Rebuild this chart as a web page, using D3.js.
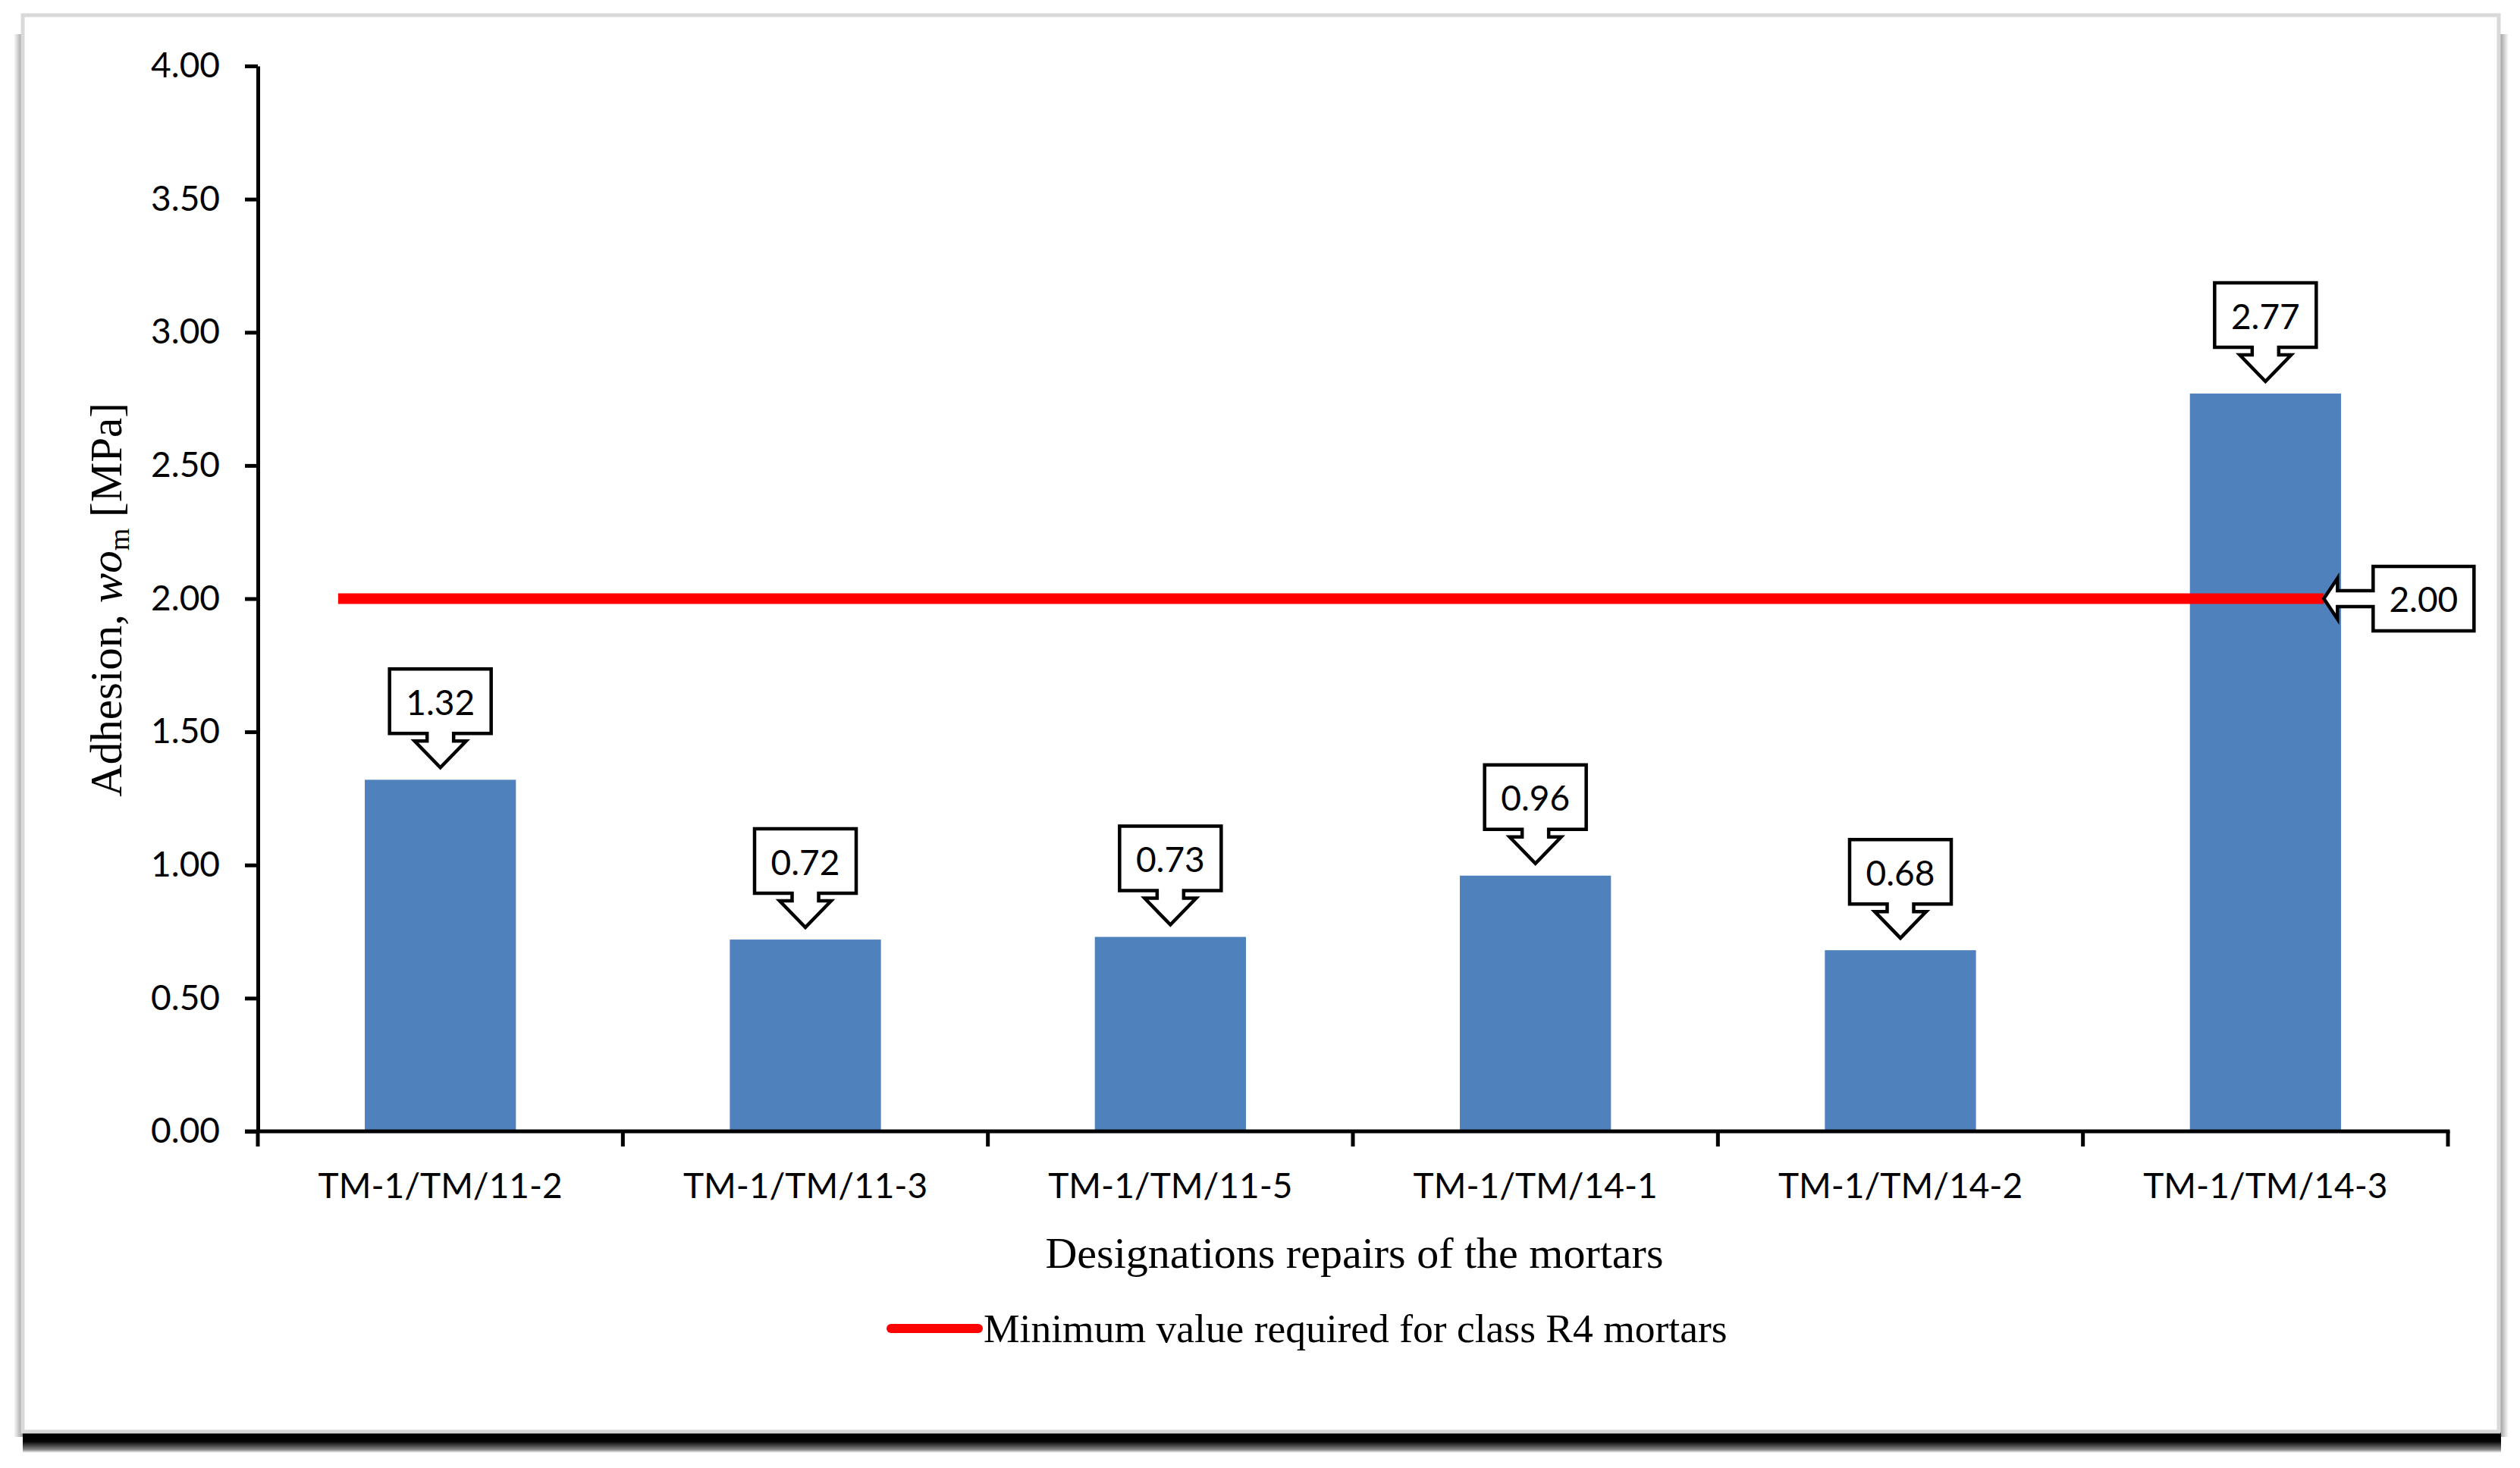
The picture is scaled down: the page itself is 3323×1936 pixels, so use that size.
<!DOCTYPE html>
<html>
<head>
<meta charset="utf-8">
<title>Adhesion of repair mortars</title>
<script src="https://d3js.org/d3.v7.min.js"></script>
<style>
  body { margin: 0; background: #fff; }
  .num { font-family: Lato, "Open Sans", sans-serif; font-size: 46px; fill: #000; }
  .serif { font-family: "Liberation Serif", serif; font-size: 56px; fill: #000; }
</style>
</head>
<body>
<svg id="chart" width="3323" height="1936"></svg>
<script>
// data
const categories = ["TM-1/TM/11-2", "TM-1/TM/11-3", "TM-1/TM/11-5", "TM-1/TM/14-1", "TM-1/TM/14-2", "TM-1/TM/14-3"];
const adhesion = [1.32, 0.72, 0.73, 0.96, 0.68, 2.77];
const yTicks = [0, 0.5, 1, 1.5, 2, 2.5, 3, 3.5, 4];
const minRequired = 2.00;
const legendLabel = "Minimum value required for class R4 mortars";
const xTitle = "Designations repairs of the mortars";

const svg = d3.select('#chart');
const fmt = d3.format('.2f');

// frame with shadow
const defs = svg.append('defs');
const gBottom = defs.append('linearGradient').attr('id', 'shBottom').attr('x1', 0).attr('y1', 0).attr('x2', 0).attr('y2', 1);
gBottom.append('stop').attr('offset', '0%').attr('stop-color', '#000');
gBottom.append('stop').attr('offset', '45%').attr('stop-color', '#050505');
gBottom.append('stop').attr('offset', '85%').attr('stop-color', '#888');
gBottom.append('stop').attr('offset', '100%').attr('stop-color', '#fff');
const gLeft = defs.append('linearGradient').attr('id', 'shLeft').attr('x1', 0).attr('y1', 0).attr('x2', 1).attr('y2', 0);
gLeft.append('stop').attr('offset', '0%').attr('stop-color', '#fff');
gLeft.append('stop').attr('offset', '100%').attr('stop-color', '#999');
const gRight = defs.append('linearGradient').attr('id', 'shRight').attr('x1', 0).attr('y1', 0).attr('x2', 1).attr('y2', 0);
gRight.append('stop').attr('offset', '0%').attr('stop-color', '#999');
gRight.append('stop').attr('offset', '100%').attr('stop-color', '#fff');

svg.append('rect').attr('x', 18).attr('y', 45).attr('width', 12).attr('height', 1850).attr('fill', 'url(#shLeft)');
svg.append('rect').attr('x', 3296).attr('y', 45).attr('width', 12).attr('height', 1850).attr('fill', 'url(#shRight)');
svg.append('rect').attr('x', 30).attr('y', 1889).attr('width', 3268).attr('height', 27).attr('fill', 'url(#shBottom)');
svg.append('rect').attr('x', 30).attr('y', 20).attr('width', 3265).attr('height', 1868)
  .attr('fill', '#fff').attr('stroke', '#d9d9d9').attr('stroke-width', 5);

// scales
const x = d3.scaleBand().domain(categories).range([340, 3228]).paddingInner(0.586).paddingOuter(0.293);
const y = d3.scaleLinear().domain([0, 4]).range([1492, 87]);
const step = x.step();
const bw = x.bandwidth();
const xi = d3.scaleLinear().domain([0, categories.length - 1])
  .range([x(categories[0]) + bw / 2, x(categories[categories.length - 1]) + bw / 2]);

// bars
svg.append('g').selectAll('rect').data(adhesion).join('rect')
  .attr('x', (d, i) => x(categories[i]))
  .attr('y', d => y(d))
  .attr('width', bw)
  .attr('height', d => y(0) - y(d))
  .attr('fill', '#4f81bd');

// y axis
const yAxis = svg.append('g').attr('transform', 'translate(340,0)')
  .call(d3.axisLeft(y).tickValues(yTicks).tickFormat(fmt).tickSize(17).tickPadding(33).tickSizeOuter(0));
yAxis.select('.domain').attr('stroke', '#000').attr('stroke-width', 5);
yAxis.selectAll('.tick line').attr('stroke', '#000').attr('stroke-width', 5);
yAxis.selectAll('.tick text').attr('class', 'num').attr('font-size', null).attr('font-family', null);

// x axis: line, ticks at band boundaries, labels at centres
const xg = svg.append('g');
xg.append('line').attr('x1', 323).attr('x2', x.range()[1] + 2.5)
  .attr('y1', y(0)).attr('y2', y(0)).attr('stroke', '#000').attr('stroke-width', 5);
const bounds = categories.map(c => x(c) - step * x.paddingInner() / 2).concat([x.range()[1]]);
xg.selectAll('line.bt').data(bounds).join('line').attr('class', 'bt')
  .attr('x1', d => d).attr('x2', d => d)
  .attr('y1', y(0)).attr('y2', y(0) + 20)
  .attr('stroke', '#000').attr('stroke-width', 5);
xg.selectAll('text').data(categories).join('text')
  .attr('class', 'num')
  .attr('x', d => x(d) + bw / 2)
  .attr('y', 1562)
  .attr('text-anchor', 'middle')
  .attr('dominant-baseline', 'central')
  .text(d => d);

// axis titles
svg.append('text').attr('class', 'serif')
  .attr('x', 1786).attr('y', 1652)
  .style('font-size', '58px')
  .attr('text-anchor', 'middle').attr('dominant-baseline', 'central')
  .text(xTitle);

const yt = svg.append('text').attr('class', 'serif')
  .attr('transform', 'translate(160,791) rotate(-90)')
  .style('font-size', '59px')
  .attr('text-anchor', 'middle');
yt.append('tspan').text('Adhesion, ');
yt.append('tspan').style('font-style', 'italic').text('wo');
yt.append('tspan').style('font-size', '38px').attr('dy', 10).text('m');
yt.append('tspan').attr('dy', -10).text(' [MPa]');

// minimum requirement line
const lineStart = xi(-0.28);
const lineEnd = xi(5.16);
svg.append('line')
  .attr('x1', lineStart).attr('x2', lineEnd)
  .attr('y1', y(minRequired)).attr('y2', y(minRequired))
  .attr('stroke', '#ff0000').attr('stroke-width', 14);

// value callouts (down arrows)
function downCallout(cx, yb) {
  const top = yb - 146, boxB = yb - 61, headT = yb - 51, tip = yb - 16;
  return `M${cx - 67},${top}H${cx + 67}V${boxB}H${cx + 17.5}V${headT}H${cx + 34}L${cx},${tip}L${cx - 34},${headT}H${cx - 17.5}V${boxB}H${cx - 67}Z`;
}
const cg = svg.append('g').selectAll('g').data(adhesion).join('g');
cg.append('path')
  .attr('d', (d, i) => downCallout(x(categories[i]) + bw / 2, y(d)))
  .attr('fill', '#fff').attr('stroke', '#000').attr('stroke-width', 4.5);
cg.append('text').attr('class', 'num')
  .attr('x', (d, i) => x(categories[i]) + bw / 2)
  .attr('y', d => y(d) - 103)
  .attr('text-anchor', 'middle').attr('dominant-baseline', 'central')
  .text(d => fmt(d));

// callout for the limit (left arrow)
const cy = y(minRequired);
const hb = lineEnd + 18, bl = lineEnd + 65, br = lineEnd + 198;
svg.append('path')
  .attr('d', `M${lineEnd},${cy}L${hb},${cy - 27}V${cy - 10.5}H${bl}V${cy - 42.5}H${br}V${cy + 42.5}H${bl}V${cy + 10.5}H${hb}V${cy + 27}Z`)
  .attr('fill', '#fff').attr('stroke', '#000').attr('stroke-width', 4.5);
svg.append('text').attr('class', 'num')
  .attr('x', (bl + br) / 2).attr('y', cy)
  .attr('text-anchor', 'middle').attr('dominant-baseline', 'central')
  .text(fmt(minRequired));

// legend
svg.append('line').attr('x1', 1175).attr('x2', 1290).attr('y1', 1752).attr('y2', 1752)
  .attr('stroke', '#ff0000').attr('stroke-width', 12).attr('stroke-linecap', 'round');
svg.append('text').attr('class', 'serif')
  .attr('x', 1297).attr('y', 1752).attr('dominant-baseline', 'central')
  .style('font-size', '53.5px')
  .text(legendLabel);
</script>
</body>
</html>
